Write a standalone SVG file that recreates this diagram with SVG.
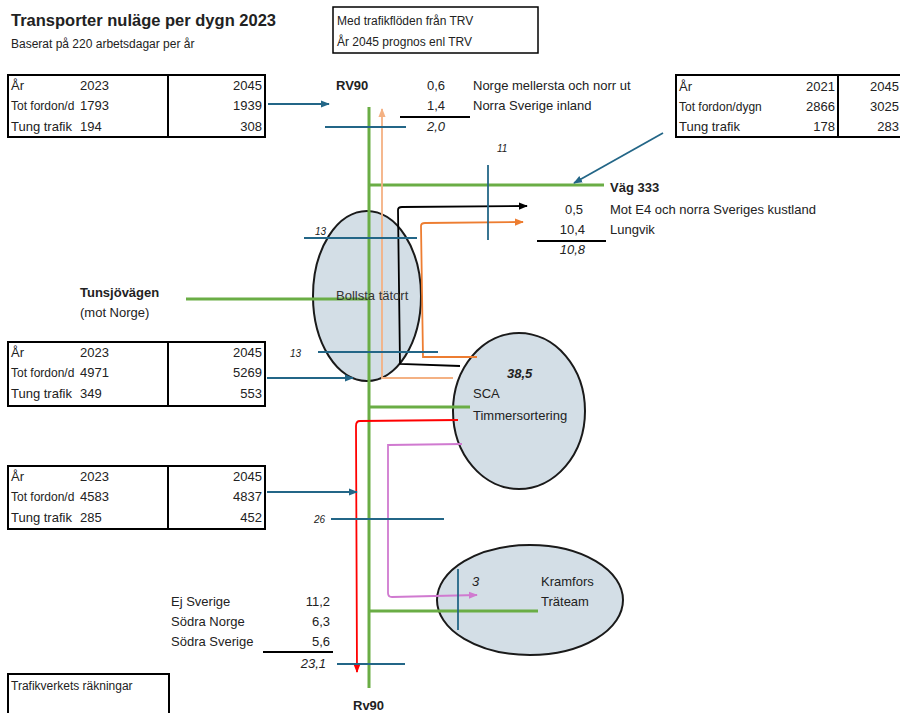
<svg xmlns="http://www.w3.org/2000/svg" width="900" height="713" viewBox="0 0 900 713">
<style>
text{font-family:"Liberation Sans",Arial,sans-serif;font-size:13px;fill:#222}
.b{font-weight:bold}
.i{font-style:italic}
.s{font-size:12px}
.sm{font-size:10px;font-style:italic}
.r{text-anchor:end}
.box{fill:none;stroke:#000;stroke-width:2}
.bx1{fill:none;stroke:#000;stroke-width:1.5}
.ell{fill:#d3dee6;stroke:#1a1a1a;stroke-width:2}
.g{stroke:#6aad45;stroke-width:3;fill:none}
.bl{stroke:#236687;stroke-width:1.8;fill:none}
.blk{stroke:#000;stroke-width:1.8;fill:none}
.or{stroke:#ed7d31;stroke-width:1.8;fill:none}
.lor{stroke:#f4b183;stroke-width:1.8;fill:none}
.red{stroke:#f00;stroke-width:1.8;fill:none}
.pk{stroke:#d07ad0;stroke-width:1.8;fill:none}
.ul{stroke:#000;stroke-width:1.8}
</style>
<defs>
<marker id="aBl" viewBox="0 0 10 10" refX="9" refY="5" markerWidth="5" markerHeight="5" orient="auto"><path d="M0,1 L10,5 L0,9 z" fill="#236687"/></marker>
<marker id="aBk" viewBox="0 0 10 10" refX="9" refY="5" markerWidth="5" markerHeight="5" orient="auto"><path d="M0,1 L10,5 L0,9 z" fill="#000"/></marker>
<marker id="aOr" viewBox="0 0 10 10" refX="9" refY="5" markerWidth="5" markerHeight="5" orient="auto"><path d="M0,1 L10,5 L0,9 z" fill="#ed7d31"/></marker>
<marker id="aLo" viewBox="0 0 10 10" refX="9" refY="5" markerWidth="5" markerHeight="5" orient="auto"><path d="M0,1 L10,5 L0,9 z" fill="#f4b183"/></marker>
<marker id="aRd" viewBox="0 0 10 10" refX="9" refY="5" markerWidth="5" markerHeight="5" orient="auto"><path d="M0,1 L10,5 L0,9 z" fill="#f00"/></marker>
<marker id="aPk" viewBox="0 0 10 10" refX="9" refY="5" markerWidth="5" markerHeight="5" orient="auto"><path d="M0,1 L10,5 L0,9 z" fill="#d07ad0"/></marker>
</defs>

<g id="title">
<text x="11" y="26" class="b" style="font-size:16.5px">Transporter nuläge per dygn 2023</text>
<text x="11" y="48" style="font-size:12px">Baserat på 220 arbetsdagar per år</text>
</g>

<g id="note-trv">
<rect x="333" y="7" width="205" height="46" class="bx1"/>
<text x="337" y="25" style="font-size:12px">Med trafikflöden från TRV</text>
<text x="337" y="46" style="font-size:12px">År 2045 prognos enl TRV</text>
</g>

<g id="node-bollsta">
<ellipse cx="367" cy="296" rx="54" ry="85" class="ell"/>
</g>
<g id="node-sca">
<ellipse cx="519" cy="411" rx="66" ry="78" class="ell"/>
</g>
<g id="node-kramfors">
<ellipse cx="530" cy="600" rx="93" ry="55" class="ell"/>
</g>

<g id="connectors">
<line x1="369" y1="107" x2="369" y2="688" class="g"/>
<line x1="369" y1="185" x2="604" y2="185" class="g"/>
<line x1="186" y1="299" x2="369" y2="299" class="g"/>
<line x1="369" y1="407" x2="470" y2="407" class="g"/>
<line x1="369" y1="611" x2="538" y2="611" class="g"/>
<path d="M453,378 L382,378 L382,109" class="lor" marker-end="url(#aLo)"/>
<path d="M460,366 L400,364 L398,210 Q398,207 402,207 L527,206" class="blk" marker-end="url(#aBk)"/>
<path d="M477,357 L423,357 L421,226 Q421,223 425,223 L523,222" class="or" marker-end="url(#aOr)"/>
<path d="M458,420 L360,421 Q356,421 356,426 L357,672" class="red" marker-end="url(#aRd)"/>
<path d="M462,444 L388,445 L388,593 Q388,597 392,597 L477,595" class="pk" marker-end="url(#aPk)"/>
<line x1="325" y1="127" x2="406" y2="127" class="bl"/>
<line x1="488" y1="165" x2="488" y2="240" class="bl"/>
<line x1="304" y1="238" x2="417" y2="238" class="bl"/>
<line x1="318" y1="352" x2="438" y2="352" class="bl"/>
<line x1="331" y1="519" x2="444" y2="519" class="bl"/>
<line x1="458" y1="569" x2="458" y2="630" class="bl"/>
<line x1="337" y1="664" x2="405" y2="664" class="bl"/>
<line x1="268" y1="104" x2="329" y2="104" class="bl" marker-end="url(#aBl)"/>
<line x1="663" y1="133" x2="574" y2="183" class="bl" marker-end="url(#aBl)"/>
<line x1="267" y1="378" x2="353" y2="378" class="bl" marker-end="url(#aBl)"/>
<line x1="267" y1="492" x2="357" y2="492" class="bl" marker-end="url(#aBl)"/>
<line x1="400" y1="117" x2="470" y2="117" class="ul"/>
<line x1="537" y1="241" x2="606" y2="241" class="ul"/>
<line x1="263" y1="652" x2="333" y2="652" class="ul"/>
</g>

<g id="labels">
<text x="336" y="90" class="b">RV90</text>
<text x="445" y="90" class="r">0,6</text>
<text x="473" y="90">Norge mellersta och norr ut</text>
<text x="445" y="110" class="r">1,4</text>
<text x="473" y="110">Norra Sverige inland</text>
<text x="445" y="131" class="r i">2,0</text>
<text x="497" y="152" class="sm">11</text>
<text x="610" y="192" class="b">Väg 333</text>
<text x="583" y="214" class="r">0,5</text>
<text x="610" y="214">Mot E4 och norra Sveriges kustland</text>
<text x="585" y="234" class="r">10,4</text>
<text x="610" y="234">Lungvik</text>
<text x="585" y="254" class="r i">10,8</text>
<text x="315" y="235" class="sm">13</text>
<text x="290" y="357" class="sm">13</text>
<text x="336" y="300" style="fill:#333">Bollsta tätort</text>
<text x="80" y="297" class="b">Tunsjövägen</text>
<text x="80" y="317">(mot Norge)</text>
<text x="507" y="378" class="b i">38,5</text>
<text x="473" y="398">SCA</text>
<text x="473" y="420">Timmersortering</text>
<text x="314" y="523" class="sm">26</text>
<text x="472" y="586" class="i">3</text>
<text x="541" y="586">Kramfors</text>
<text x="541" y="606">Träteam</text>
<text x="171" y="606">Ej Sverige</text>
<text x="330" y="606" class="r">11,2</text>
<text x="171" y="626">Södra Norge</text>
<text x="330" y="626" class="r">6,3</text>
<text x="171" y="646">Södra Sverige</text>
<text x="330" y="646" class="r">5,6</text>
<text x="326" y="668" class="r i">23,1</text>
<text x="353" y="710" class="b">Rv90</text>
</g>

<g id="table-rv90-north">
<rect x="8" y="75" width="257" height="62" class="box"/>
<line x1="168" y1="75" x2="168" y2="137" class="box"/>
<text x="11" y="90">År</text><text x="80" y="90">2023</text><text x="262" y="90" class="r">2045</text>
<text x="11" y="110" class="s">Tot fordon/d</text><text x="80" y="110">1793</text><text x="262" y="110" class="r">1939</text>
<text x="11" y="131">Tung trafik</text><text x="80" y="131">194</text><text x="262" y="131" class="r">308</text>
</g>

<g id="table-vag333">
<rect x="676" y="75" width="240" height="62" class="box"/>
<line x1="838" y1="75" x2="838" y2="137" class="box"/>
<text x="679" y="91">År</text><text x="835" y="91" class="r">2021</text><text x="899" y="91" class="r">2045</text>
<text x="679" y="111" class="s">Tot fordon/dygn</text><text x="835" y="111" class="r">2866</text><text x="899" y="111" class="r">3025</text>
<text x="679" y="131">Tung trafik</text><text x="835" y="131" class="r">178</text><text x="899" y="131" class="r">283</text>
</g>

<g id="table-bollsta">
<rect x="8" y="342" width="257" height="64" class="box"/>
<line x1="168" y1="342" x2="168" y2="406" class="box"/>
<text x="11" y="357">År</text><text x="80" y="357">2023</text><text x="262" y="357" class="r">2045</text>
<text x="11" y="377" class="s">Tot fordon/d</text><text x="80" y="377">4971</text><text x="262" y="377" class="r">5269</text>
<text x="11" y="398">Tung trafik</text><text x="80" y="398">349</text><text x="262" y="398" class="r">553</text>
</g>

<g id="table-rv90-south">
<rect x="8" y="466" width="257" height="63" class="box"/>
<line x1="168" y1="466" x2="168" y2="529" class="box"/>
<text x="11" y="481">År</text><text x="80" y="481">2023</text><text x="262" y="481" class="r">2045</text>
<text x="11" y="501" class="s">Tot fordon/d</text><text x="80" y="501">4583</text><text x="262" y="501" class="r">4837</text>
<text x="11" y="522">Tung trafik</text><text x="80" y="522">285</text><text x="262" y="522" class="r">452</text>
</g>

<g id="note-trafikverket">
<rect x="8" y="674" width="161" height="45" class="box"/>
<text x="11" y="690" style="font-size:12px">Trafikverkets räkningar</text>
</g>
</svg>
